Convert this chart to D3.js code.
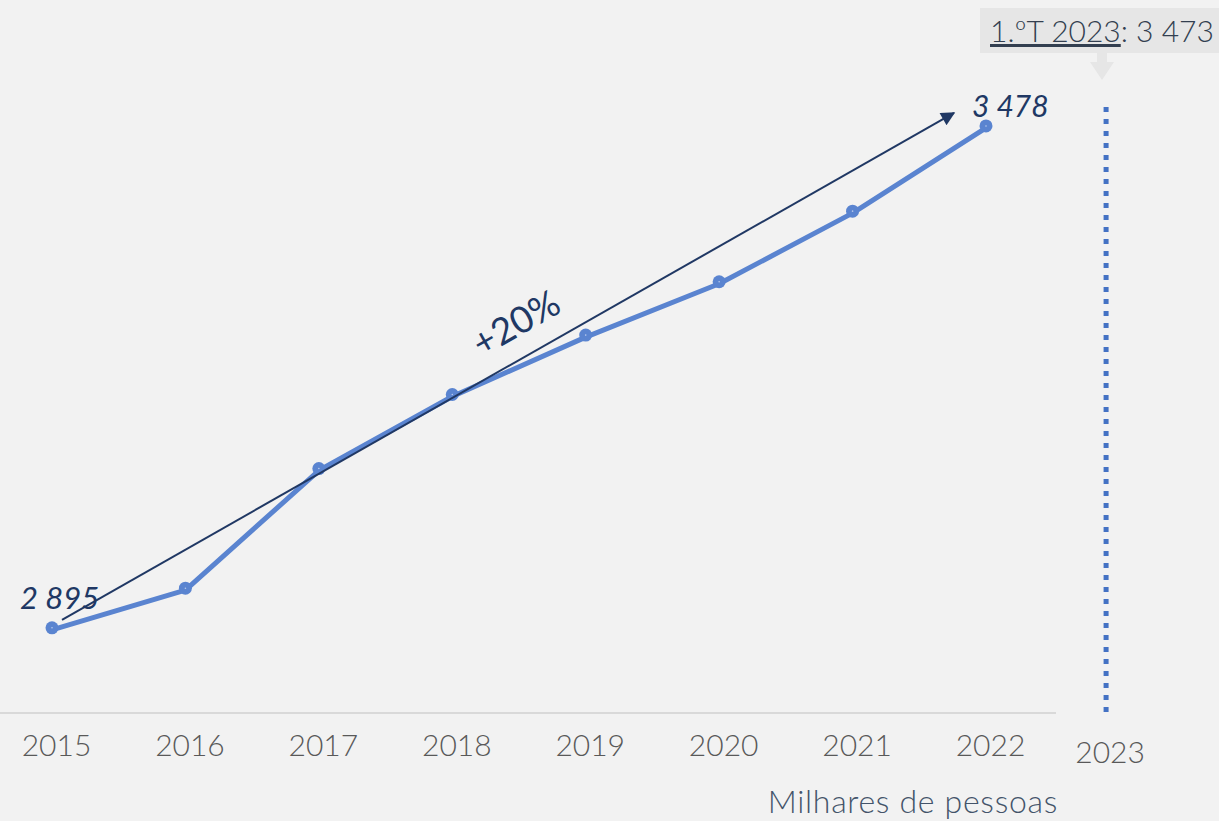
<!DOCTYPE html>
<html><head><meta charset="utf-8">
<script src="https://cdn.jsdelivr.net/npm/d3@7"></script>
<style>html,body{margin:0;padding:0;background:#f2f2f2;}svg{display:block;}</style>
</head><body>
<svg id="c" width="1219" height="821"></svg>
<script>
const years = ["2015","2016","2017","2018","2019","2020","2021","2022"];
const values = [2895, 2941, 3080, 3166, 3235, 3297, 3379, 3478];
const extraYear = "2023";
const q1Label = "1.ºT 2023";
const q1Value = "3 473";
const growthLabel = "+20%";
const unitLabel = "Milhares de pessoas";
const fmt = v => d3.format(",")(v).replace(",", " ");

const svg = d3.select("#c");
const W = 1219, H = 821;
svg.append("rect").attr("width", W).attr("height", H).attr("fill", "#f2f2f2");

const x = d3.scalePoint().domain(years).range([52, 986]);
const step = x.step();
const xAll = d => years.includes(d) ? x(d) : x(years[years.length-1]) + step * 0.9;
const y = d3.scaleLinear().domain([2796, 3500]).range([713, 107]);

const font = "Lato, 'Open Sans', sans-serif";
const blue = "#5a84d0";
const navy = "#203864";

// axis baseline
svg.append("line").attr("x1", 0).attr("x2", 1056).attr("y1", 713).attr("y2", 713)
  .attr("stroke", "#d9d9d9").attr("stroke-width", 2);

// x axis labels
const xAxis = d3.axisBottom(x).tickSize(0).tickPadding(0);
const gx = svg.append("g").attr("transform", "translate(4,745)").call(xAxis);
gx.select(".domain").remove();
gx.selectAll("text").attr("font-family", font).attr("font-weight", 300).attr("font-size", 30)
  .attr("fill", "#595959").attr("dy", "0.35em");
svg.append("text").attr("x", xAll(extraYear) + 4).attr("y", 752).attr("dy", "0.35em")
  .attr("text-anchor", "middle").attr("font-family", font).attr("font-weight", 300)
  .attr("font-size", 30).attr("fill", "#595959").text(extraYear);

// unit label
svg.append("text").attr("x", 1058).attr("y", 813).attr("text-anchor", "end")
  .attr("font-family", font).attr("font-weight", 300).attr("font-size", 32)
  .attr("letter-spacing", 0.7).attr("fill", "#44546a").text(unitLabel);

// dotted line for 2023
svg.append("line").attr("x1", xAll(extraYear)).attr("x2", xAll(extraYear))
  .attr("y1", y(3500)).attr("y2", 713)
  .attr("stroke", "#4472c4").attr("stroke-width", 5).attr("stroke-dasharray", "5,7");

// data line
const pts = years.map((yr, i) => [x(yr), y(values[i])]);
svg.append("path").attr("d", d3.line()(pts.map(p => [p[0], p[1] + 2])))
  .attr("fill", "none").attr("stroke", blue).attr("stroke-width", 5).attr("stroke-linejoin", "round");
svg.selectAll("circle.m").data(pts).join("circle").attr("class", "m")
  .attr("cx", d => d[0]).attr("cy", d => d[1]).attr("r", 6.5).attr("fill", blue);
svg.selectAll("circle.d").data(pts).join("circle").attr("class", "d")
  .attr("cx", d => d[0]).attr("cy", d => d[1]).attr("r", 0.8).attr("fill", "#b9caeb");

// trend arrow
const defs = svg.append("defs");
defs.append("marker").attr("id", "ah").attr("viewBox", "0 0 10 10").attr("refX", 9).attr("refY", 5)
  .attr("markerWidth", 16).attr("markerHeight", 14).attr("markerUnits", "userSpaceOnUse")
  .attr("orient", "auto").append("path").attr("d", "M0,0 L10,5 L0,10 z").attr("fill", navy);
const a0 = [x(years[0]) + 10, y(values[0]) - 8];
const a1 = [x(years[years.length-1]) - 32, y(values[values.length-1]) - 13];
svg.append("line").attr("x1", a0[0]).attr("y1", a0[1]).attr("x2", a1[0]).attr("y2", a1[1])
  .attr("stroke", navy).attr("stroke-width", 2).attr("marker-end", "url(#ah)");

const ang = Math.atan2(a1[1] - a0[1], a1[0] - a0[0]) * 180 / Math.PI;
svg.append("text").attr("transform", `translate(516,323) rotate(${ang})`)
  .attr("text-anchor", "middle").attr("dy", "0.35em").attr("font-family", font)
  .attr("font-size", 37).attr("fill", navy).text(growthLabel);

// end labels
svg.append("text").attr("x", x(years[0]) - 32).attr("y", y(values[0]) - 30).attr("dy", "0.35em")
  .attr("font-family", font).attr("font-style", "italic").attr("font-size", 31).attr("fill", navy)
  .text(fmt(values[0]));
svg.append("text").attr("x", x(years[years.length-1]) - 14).attr("y", y(values[values.length-1]) - 19)
  .attr("dy", "0.35em").attr("font-family", font).attr("font-style", "italic").attr("font-size", 30)
  .attr("fill", navy).text(fmt(values[values.length-1]));

// callout box
svg.append("rect").attr("x", 980).attr("y", 8).attr("width", 239).attr("height", 45).attr("fill", "#e6e6e6");
svg.append("path").attr("d", "M1097,53 L1107,53 L1107,62 L1114,62 L1102,80 L1090,62 L1097,62 Z").attr("fill", "#e6e6e6");
const t = svg.append("text").attr("x", 990).attr("y", 42).attr("font-family", font).attr("font-weight", 300)
  .attr("font-size", 30).attr("fill", "#333f50");
t.append("tspan").attr("text-decoration", "underline").text(q1Label);
t.append("tspan").text(": " + q1Value);
</script>
</body></html>
